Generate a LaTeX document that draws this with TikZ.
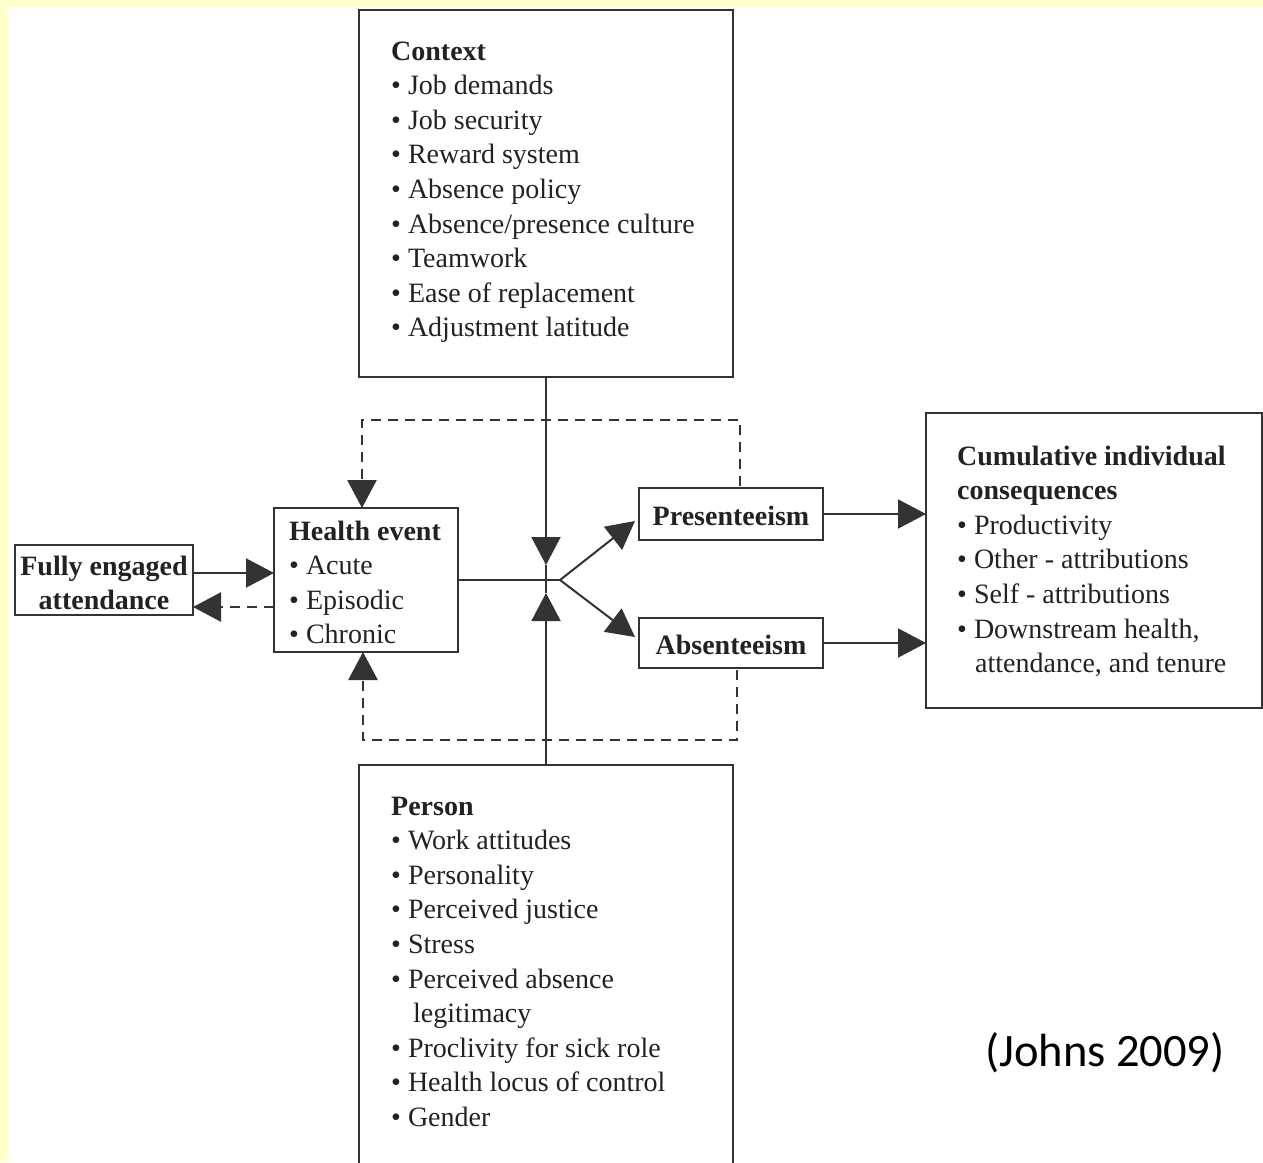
\documentclass[tikz,border=0pt]{standalone}
\usepackage{fontspec}
\setmainfont{Liberation Serif}
\newfontfamily\capfont{Carlito}
\usetikzlibrary{arrows.meta}
\definecolor{ybg}{HTML}{FFFFCC}
\definecolor{ln}{HTML}{333333}
\definecolor{dl}{HTML}{333333}
\definecolor{tx}{HTML}{222222}
\begin{document}
\begin{tikzpicture}[x=1pt,y=-1pt,
  box/.style={draw=ln, line width=2pt, inner sep=0pt, outer sep=0pt, anchor=north west},
  txt/.style={inner sep=0pt, anchor=base west, text=tx, font=\fontsize{28}{34}\selectfont},
  hd/.style={inner sep=0pt, anchor=base west, text=tx, font=\fontsize{28}{34}\selectfont\bfseries},
  plain/.style={draw=ln, line width=2pt},
  conn/.style={draw=ln, line width=2pt, -{Triangle[length=28pt,width=29pt]}},
  fb/.style={draw=dl, line width=2.6pt, dash pattern=on 10pt off 7pt, -{Triangle[length=28pt,width=29pt]}}]
\useasboundingbox (0,0) rectangle (1263,1162);
\clip (0,0) rectangle (1263,1162);
\fill[ybg] (0,0) rectangle (1263,1162);
\fill[white] (8,7) rectangle (1263,1162);

% boxes
\node[box, minimum width=374pt, minimum height=367pt] (ctx) at (359,10) {};
\node[box, minimum width=374pt, minimum height=420pt] (per) at (359,765) {};
\node[box, minimum width=184pt, minimum height=144pt] (hev) at (274,508) {};
\node[box, minimum width=178pt, minimum height=70pt] (fea) at (15,545) {};
\node[box, minimum width=184pt, minimum height=52pt] (pre) at (639,488) {};
\node[box, minimum width=184pt, minimum height=50pt] (abs) at (639,618) {};
\node[box, minimum width=336pt, minimum height=295pt] (cum) at (926,413) {};

% Context text
\node[hd] (ctxh) at (391,60) {Context};
\foreach \t [count=\i] in {Job demands, Job security, Reward system, Absence policy, Absence/presence culture, Teamwork, Ease of replacement, Adjustment latitude}
  \node[txt] (ctx\i) at (391,{60+34.6*\i}) {\textbullet\ \t};

% Person text
\node[hd] (perh) at (391,815) {Person};
\foreach \t [count=\i] in {Work attitudes, Personality, Perceived justice, Stress, Perceived absence}
  \node[txt] (per\i) at (391,{815+34.6*\i}) {\textbullet\ \t};
\node[txt] (perl) at (413,1022.6) {legitimacy};
\foreach \t [count=\i] in {Proclivity for sick role, Health locus of control, Gender}
  \node[txt] (perb\i) at (391,{1022.6+34.6*\i}) {\textbullet\ \t};

% Health event text
\node[hd] (hevh) at (289,540) {Health event};
\foreach \t [count=\i] in {Acute, Episodic, Chronic}
  \node[txt] (hev\i) at (289,{540+34.6*\i}) {\textbullet\ \t};

% Fully engaged attendance
\node[hd, anchor=base] (fea1) at (104,575) {Fully engaged};
\node[hd, anchor=base] (fea2) at (104,609) {attendance};

% Presenteeism / Absenteeism
\node[hd, anchor=base] (pret) at (731,525) {Presenteeism};
\node[hd, anchor=base] (abst) at (731,654) {Absenteeism};

% Cumulative consequences
\node[hd] (cumh1) at (957,465) {Cumulative individual};
\node[hd] (cumh2) at (957,499.6) {consequences};
\node[txt] (cum1) at (957,534.2) {\textbullet\ Productivity};
\node[txt] (cum2) at (957,568.8) {\textbullet\ Other - attributions};
\node[txt] (cum3) at (957,603.4) {\textbullet\ Self - attributions};
\node[txt] (cum4) at (957,638) {\textbullet\ Downstream health,};
\node[txt] (cum5) at (975,672.6) {attendance, and tenure};

% Source
\node[inner sep=0pt, anchor=base, text=black, font=\capfont\fontsize{46.5}{56}\selectfont] (src) at (1105,1066) {(Johns 2009)};

% connectors
\coordinate (jd) at (546,565);
\coordinate (ju) at (546,593);
\coordinate (br) at (560,580);
\coordinate (ytop) at (0,420);
\coordinate (ybot) at (0,740);

\draw[conn] ([yshift=7pt]fea.east) -- ([yshift=7pt]hev.west);
\draw[fb] ([yshift=-27pt]hev.west) -- ([yshift=-27pt]fea.east);

\draw[conn] (ctx.south) -- (jd);
\draw[conn] (per.north) -- (ju);
\draw[plain] (jd) -- (ju);
\draw[plain] (hev.east) -- (br);
\draw[conn] (br) -- ([xshift=-4pt,yshift=-7pt]pre.west);
\draw[conn] (br) -- ([xshift=-4pt,yshift=6pt]abs.west);

\draw[conn] (pre.east) -- (pre.east -| cum.west);
\draw[conn] (abs.east) -- (abs.east -| cum.west);

\draw[fb] ([xshift=9pt,yshift=2pt]pre.north) -- ([xshift=9pt]pre.north |- ytop) -| ([xshift=-4pt]hev.north);
\draw[fb] ([xshift=6pt,yshift=-2pt]abs.south) -- ([xshift=6pt]abs.south |- ybot) -| ([xshift=-3pt]hev.south);
\end{tikzpicture}
\end{document}
